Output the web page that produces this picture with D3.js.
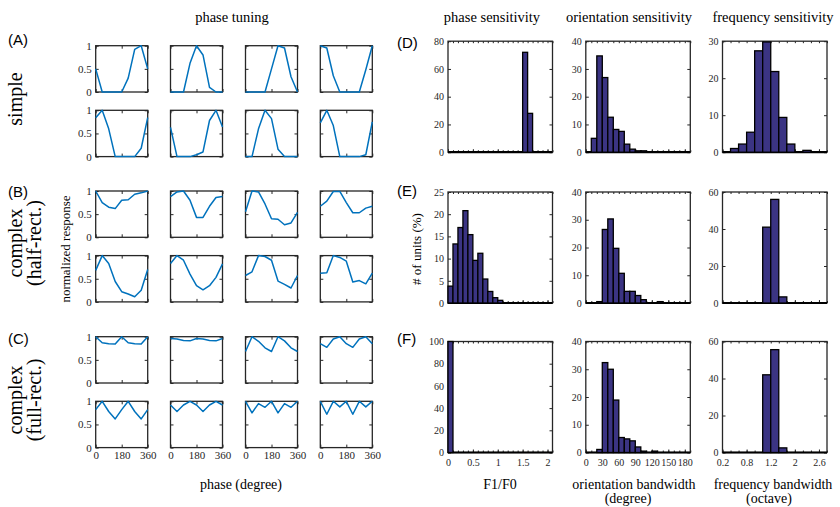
<!DOCTYPE html>
<html>
<head>
<meta charset="utf-8">
<script src="https://cdn.jsdelivr.net/npm/d3@7"></script>
<style>
  body { margin: 0; background: #fff; }
  svg { display: block; }
  text { font-family: "Liberation Serif", "Times New Roman", serif; fill: #262626; }
  .sans { font-family: "Liberation Sans", Arial, sans-serif; fill: #000; }
</style>
</head>
<body>
<svg id="fig" width="840" height="507"></svg>
<script>
// ---------- phase tuning curves (normalized response vs. phase) ----------
const phaseDeg = [0, 45, 90, 135, 180, 225, 270, 315, 360];
const phaseTicks = [0, 180, 360];
const responseTicks = [0, 0.5, 1];

const simpleCurves = [
  [0.5, 0, 0, 0, 0, 0.3, 0.92, 1, 0.5],
  [0, 0, 0, 0.62, 1, 0.8, 0.1, 0, 0],
  [0, 0, 0, 0, 0.5, 1, 0.95, 0.33, 0],
  [1, 0.95, 0.35, 0, 0, 0, 0, 0.48, 1],
  [0.84, 1, 0.6, 0, 0, 0, 0, 0.18, 0.84],
  [0.63, 0, 0, 0, 0.04, 0.1, 0.78, 1, 0.64],
  [0, 0, 0.6, 1, 0.82, 0.16, 0, 0, 0],
  [0.73, 1, 0.67, 0, 0, 0, 0, 0.04, 0.75]
];
const halfRectCurves = [
  [1, 0.75, 0.65, 0.62, 0.8, 0.81, 0.93, 0.96, 1],
  [0.88, 0.98, 1, 0.8, 0.43, 0.43, 0.67, 0.86, 0.88],
  [0.55, 1, 0.98, 0.72, 0.4, 0.39, 0.27, 0.31, 0.54],
  [0.67, 0.78, 0.99, 0.99, 0.75, 0.53, 0.53, 0.63, 0.67],
  [0.68, 1, 0.83, 0.44, 0.22, 0.17, 0.11, 0.25, 0.7],
  [0.83, 1, 0.9, 0.6, 0.35, 0.26, 0.35, 0.53, 0.82],
  [0.57, 0.65, 1, 0.98, 0.9, 0.45, 0.38, 0.3, 0.57],
  [0.62, 0.63, 1, 0.96, 0.88, 0.43, 0.46, 0.39, 0.62]
];
const fullRectCurves = [
  [1, 0.87, 0.85, 0.84, 1, 0.87, 0.85, 0.84, 1],
  [0.96, 0.95, 0.92, 0.91, 0.96, 0.95, 0.92, 0.91, 0.96],
  [0.68, 1, 0.9, 0.76, 0.68, 1, 0.91, 0.76, 0.68],
  [0.85, 0.77, 0.95, 1, 0.85, 0.77, 0.95, 1, 0.85],
  [0.82, 1, 0.78, 0.62, 0.82, 1, 0.78, 0.62, 0.82],
  [0.92, 0.78, 0.92, 1, 0.92, 0.78, 0.92, 1, 0.92],
  [1, 0.75, 0.95, 0.87, 1, 0.75, 0.95, 0.87, 1],
  [1, 0.72, 1, 0.88, 1, 0.72, 1, 0.88, 1]
];

// ---------- histograms (% of units) ----------
// phase sensitivity: F1/F0, bins of 0.1 from 0 to 2.1
const f1f0Range = [0, 2.1], f1f0Bin = 0.1;
const f1f0Ticks = [0, 0.5, 1, 1.5, 2];
const f1f0Labels = ["0", "0.5", "1", "1.5", "2"];
const phaseSensSimple = [0,0,0,0,0,0,0,0,0,0,0,0,0,0,0,72,28,0,0,0,0];
const phaseSensHalf   = [3.8,13.3,17,20.8,15.4,9.6,11.2,5.4,2.6,1.2,0.6,0,0,0,0,0,0,0,0,0,0];
const phaseSensFull   = [100,0,0,0,0,0,0,0,0,0,0,0,0,0,0,0,0,0,0,0,0];

// orientation bandwidth (degree), bins of 10 from 0 to 190
const oriRange = [0, 190], oriBin = 10;
const oriTicks = [0, 30, 60, 90, 120, 150, 180];
const oriLabels = ["0", "30", "60", "90", "120", "150", "180"];
const oriSimple = [0,5,34.7,26.9,12.6,8.2,7.5,2.9,1.1,0.5,0.5,0,0,0,0,0,0,0,0];
const oriHalf   = [0,0,0.5,26.5,30.3,19.7,10.7,4.2,4.2,2.7,1.2,0,0,0.5,0,0,0,0,0];
const oriFull   = [0,0,1.1,32.4,30,18.9,5.4,4.9,4.2,2,0.5,0,0.5,0,0,0,0,0,0];

// frequency bandwidth (octave), bins of 0.2 from 0.2 to 2.8
const freqRange = [0.2, 2.8], freqBin = 0.2;
const freqTicks = [0.2, 0.8, 1.4, 2, 2.6];
const freqLabels = ["0.2", "0.8", "1.2", "2", "2.6"];
const freqSimple = [0,1,2.2,5.4,27.4,29.8,21.8,9.4,2.2,0,0.5,0,0];
const freqHalf   = [0,0,0,0,0,41,56,3.3,0,0,0,0,0];
const freqFull   = [0,0,0,0,0,42,55.6,2.5,0,0,0,0,0];

const svg = d3.select("#fig");
const INK = "#262626";
const LINE_BLUE = "#0072BD";
const BAR_FILL = "#3b3483";
const SERIF = '"Liberation Serif", "Times New Roman", serif';

// ---------- phase tuning grid ----------
const pW = 52, pH = 46.3;
const pColX = [95.7, 170.5, 245.5, 320.3];
const pGroupY = [45.7, 191, 336.7];
const pRowGap = 64.6;
const groups = [simpleCurves, halfRectCurves, fullRectCurves];

function boxAxes(g, x, y) {
  const [x0, x1] = x.range();
  const [y1, y0] = y.range();
  g.append("rect")
    .attr("x", x0).attr("y", y0)
    .attr("width", x1 - x0).attr("height", y1 - y0)
    .attr("fill", "none").attr("stroke", INK).attr("stroke-width", 1.3);
}

function styleAxis(sel, fontSize) {
  sel.attr("font-family", SERIF);
  sel.select(".domain").remove();
  sel.selectAll(".tick line").attr("stroke", INK).attr("stroke-width", 1);
  sel.selectAll(".tick text")
    .attr("fill", INK)
    .style("font-family", SERIF)
    .style("font-size", fontSize + "px");
}

function phasePanel(x0, y0, values, showY, showX) {
  const g = svg.append("g");
  const x = d3.scaleLinear().domain([0, 360]).range([x0, x0 + pW]);
  const y = d3.scaleLinear().domain([0, 1]).range([y0 + pH, y0]);

  const yL = g.append("g").attr("transform", `translate(${x0},0)`)
    .call(d3.axisLeft(y).tickValues(responseTicks).tickSize(-3).tickPadding(4)
      .tickFormat(showY ? d3.format("") : () => ""));
  styleAxis(yL, 11);
  const yR = g.append("g").attr("transform", `translate(${x0 + pW},0)`)
    .call(d3.axisRight(y).tickValues(responseTicks).tickSize(-3).tickFormat(() => ""));
  styleAxis(yR, 11);
  const xB = g.append("g").attr("transform", `translate(0,${y0 + pH})`)
    .call(d3.axisBottom(x).tickValues(phaseTicks).tickSize(-3).tickPadding(4)
      .tickFormat(showX ? d3.format("") : () => ""));
  styleAxis(xB, 11);
  const xT = g.append("g").attr("transform", `translate(0,${y0})`)
    .call(d3.axisTop(x).tickValues(phaseTicks).tickSize(-3).tickFormat(() => ""));
  styleAxis(xT, 11);

  boxAxes(g, x, y);

  g.append("path")
    .datum(values)
    .attr("fill", "none")
    .attr("stroke", LINE_BLUE)
    .attr("stroke-width", 1.5)
    .attr("stroke-linejoin", "round")
    .attr("d", d3.line().x((d, i) => x(phaseDeg[i])).y(d => y(d)));
}

groups.forEach((curves, gi) => {
  curves.forEach((vals, k) => {
    const row = Math.floor(k / 4), col = k % 4;
    const y0 = pGroupY[gi] + row * pRowGap;
    phasePanel(pColX[col], y0, vals, col === 0, gi === 2 && row === 1);
  });
});

// ---------- histogram grid ----------
const hW = 104.5, hH = 111;
const hColX = [448, 585.8, 722.5];
const hRowY = [41.2, 192, 341.5];

const histSpecs = [
  // row D
  [
    { vals: phaseSensSimple, range: f1f0Range, bin: f1f0Bin, yMax: 80, yTicks: [0,20,40,60,80], xt: f1f0Ticks, xl: f1f0Labels },
    { vals: oriSimple, range: oriRange, bin: oriBin, yMax: 40, yTicks: [0,10,20,30,40], xt: oriTicks, xl: oriLabels },
    { vals: freqSimple, range: freqRange, bin: freqBin, yMax: 30, yTicks: [0,10,20,30], xt: freqTicks, xl: freqLabels }
  ],
  // row E
  [
    { vals: phaseSensHalf, range: f1f0Range, bin: f1f0Bin, yMax: 25, yTicks: [0,5,10,15,20,25], xt: f1f0Ticks, xl: f1f0Labels },
    { vals: oriHalf, range: oriRange, bin: oriBin, yMax: 40, yTicks: [0,10,20,30,40], xt: oriTicks, xl: oriLabels },
    { vals: freqHalf, range: freqRange, bin: freqBin, yMax: 60, yTicks: [0,20,40,60], xt: freqTicks, xl: freqLabels }
  ],
  // row F
  [
    { vals: phaseSensFull, range: f1f0Range, bin: f1f0Bin, yMax: 100, yTicks: [0,20,40,60,80,100], xt: f1f0Ticks, xl: f1f0Labels },
    { vals: oriFull, range: oriRange, bin: oriBin, yMax: 40, yTicks: [0,10,20,30,40], xt: oriTicks, xl: oriLabels },
    { vals: freqFull, range: freqRange, bin: freqBin, yMax: 60, yTicks: [0,20,40,60], xt: freqTicks, xl: freqLabels }
  ]
];

function histPanel(x0, y0, spec, showX) {
  const g = svg.append("g");
  const x = d3.scaleLinear().domain(spec.range).range([x0, x0 + hW]);
  const y = d3.scaleLinear().domain([0, spec.yMax]).range([y0 + hH, y0]);
  const edges = spec.vals.map((_, i) => spec.range[0] + i * spec.bin);
  edges.push(spec.range[0] + spec.vals.length * spec.bin);

  // minor ticks at every bin edge, top and bottom
  const mt = g.append("g").attr("transform", `translate(0,${y0})`)
    .call(d3.axisTop(x).tickValues(edges).tickSize(-2).tickFormat(() => ""));
  styleAxis(mt, 10);
  const mb = g.append("g").attr("transform", `translate(0,${y0 + hH})`)
    .call(d3.axisBottom(x).tickValues(edges).tickSize(-2).tickFormat(() => ""));
  styleAxis(mb, 10);

  // labelled x axis
  const xb = g.append("g").attr("transform", `translate(0,${y0 + hH})`)
    .call(d3.axisBottom(x).tickValues(spec.xt).tickSize(-3).tickPadding(6)
      .tickFormat((d, i) => showX ? spec.xl[i] : ""));
  styleAxis(xb, 10);

  const yl = g.append("g").attr("transform", `translate(${x0},0)`)
    .call(d3.axisLeft(y).tickValues(spec.yTicks).tickSize(-3).tickPadding(4));
  styleAxis(yl, 10);
  const yr = g.append("g").attr("transform", `translate(${x0 + hW},0)`)
    .call(d3.axisRight(y).tickValues(spec.yTicks).tickSize(-3).tickFormat(() => ""));
  styleAxis(yr, 10);

  boxAxes(g, x, y);

  // empty bins collapse onto the baseline as a heavy edge
  g.append("line")
    .attr("x1", x(edges[0])).attr("x2", x(edges[edges.length - 1]))
    .attr("y1", y(0)).attr("y2", y(0))
    .attr("stroke", "#000").attr("stroke-width", 2.2);

  g.selectAll("rect.bar")
    .data(spec.vals.map((v, i) => ({ v, a: edges[i], b: edges[i + 1] })).filter(d => d.v > 0))
    .join("rect")
    .attr("class", "bar")
    .attr("x", d => x(d.a))
    .attr("width", d => x(d.b) - x(d.a))
    .attr("y", d => y(d.v))
    .attr("height", d => y(0) - y(d.v))
    .attr("fill", BAR_FILL)
    .attr("stroke", "#000")
    .attr("stroke-width", 1.3);
}

histSpecs.forEach((row, r) => {
  row.forEach((spec, c) => histPanel(hColX[c], hRowY[r], spec, r === 2));
});

// ---------- titles, panel letters, axis labels ----------
function label(txt, x, y, size, opts = {}) {
  const t = svg.append("text")
    .attr("x", x).attr("y", y)
    .attr("text-anchor", opts.anchor || "middle")
    .style("font-size", size + "px")
    .text(txt);
  if (opts.sans) t.attr("class", "sans");
  if (opts.rotate) t.attr("transform", `rotate(-90,${x},${y})`);
  if (opts.fill) t.style("fill", opts.fill);
  return t;
}

label("phase tuning", 232, 22, 14.5, { fill: "#000" });
label("phase sensitivity", 492, 22, 14.5, { fill: "#000" });
label("orientation sensitivity", 629, 22, 14.5, { fill: "#000" });
label("frequency sensitivity", 773, 22, 14.5, { fill: "#000" });

label("(A)", 8, 45, 15, { anchor: "start", sans: true });
label("(B)", 8, 197, 15, { anchor: "start", sans: true });
label("(C)", 8, 344, 15, { anchor: "start", sans: true });
label("(D)", 397, 48, 15, { anchor: "start", sans: true });
label("(E)", 397, 196, 15, { anchor: "start", sans: true });
label("(F)", 397, 344, 15, { anchor: "start", sans: true });

label("simple", 22, 99, 20, { rotate: true, fill: "#000" });
label("complex", 22, 243, 20, { rotate: true, fill: "#000" });
label("(half-rect.)", 41, 243, 20, { rotate: true, fill: "#000" });
label("complex", 22, 400, 20, { rotate: true, fill: "#000" });
label("(full-rect.)", 41, 400, 20, { rotate: true, fill: "#000" });

label("normalized response", 69.5, 249, 13, { rotate: true, fill: "#000" });
label("# of units (%)", 421, 249, 13, { rotate: true, fill: "#000" });

label("phase (degree)", 241, 489, 14, { fill: "#000" });
label("F1/F0", 500, 489, 14, { fill: "#000" });
label("orientation bandwidth", 634, 489, 14, { fill: "#000" });
label("(degree)", 628, 503, 14, { fill: "#000" });
label("frequency bandwidth", 773, 489, 14, { fill: "#000" });
label("(octave)", 769, 503, 14, { fill: "#000" });
</script>
</body>
</html>
